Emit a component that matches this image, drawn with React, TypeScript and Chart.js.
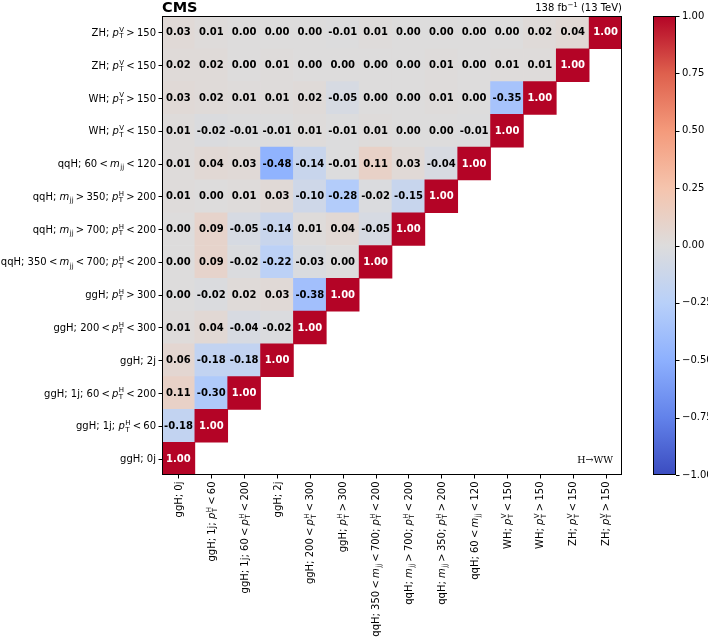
import React, { useEffect, useRef } from "react";
import { Chart, registerables } from "chart.js";

Chart.register(...registerables);

// Bin labels, bottom-to-top on y, left-to-right on x
const bins = [
  "ggH; 0j",
  "ggH; 1j; {pTH} < 60",
  "ggH; 1j; 60 < {pTH} < 200",
  "ggH; 2j",
  "ggH; 200 < {pTH} < 300",
  "ggH; {pTH} > 300",
  "qqH; 350 < {mjj} < 700; {pTH} < 200",
  "qqH; {mjj} > 700; {pTH} < 200",
  "qqH; {mjj} > 350; {pTH} > 200",
  "qqH; 60 < {mjj} < 120",
  "WH; {pTV} < 150",
  "WH; {pTV} > 150",
  "ZH; {pTV} < 150",
  "ZH; {pTV} > 150",
];

// Correlation rows (row i has columns 0..i)
const row00 = [1.0];
const row01 = [-0.18, 1.0];
const row02 = [0.11, -0.3, 1.0];
const row03 = [0.06, -0.18, -0.18, 1.0];
const row04 = [0.01, 0.04, -0.04, -0.02, 1.0];
const row05 = [0.0, -0.02, 0.02, 0.03, -0.38, 1.0];
const row06 = [0.0, 0.09, -0.02, -0.22, -0.03, 0.0, 1.0];
const row07 = [0.0, 0.09, -0.05, -0.14, 0.01, 0.04, -0.05, 1.0];
const row08 = [0.01, 0.0, 0.01, 0.03, -0.1, -0.28, -0.02, -0.15, 1.0];
const row09 = [0.01, 0.04, 0.03, -0.48, -0.14, -0.01, 0.11, 0.03, -0.04, 1.0];
const row10 = [0.01, -0.02, -0.01, -0.01, 0.01, -0.01, 0.01, 0.0, 0.0, -0.01, 1.0];
const row11 = [0.03, 0.02, 0.01, 0.01, 0.02, -0.05, 0.0, 0.0, 0.01, 0.0, -0.35, 1.0];
const row12 = [0.02, 0.02, 0.0, 0.01, 0.0, 0.0, 0.0, 0.0, 0.01, 0.0, 0.01, 0.01, 1.0];
const row13 = [0.03, 0.01, 0.0, 0.0, 0.0, -0.01, 0.01, 0.0, 0.0, 0.0, 0.0, 0.02, 0.04, 1.0];

const rows = [row00, row01, row02, row03, row04, row05, row06, row07, row08, row09, row10, row11, row12, row13];

const colorbarTicks = [1.0, 0.75, 0.5, 0.25, 0.0, -0.25, -0.5, -0.75, -1.0];

// coolwarm colormap stops
const coolwarm: [number, number, number][] = [
  [59, 76, 192],
  [98, 130, 234],
  [141, 176, 254],
  [184, 208, 249],
  [221, 220, 220],
  [245, 196, 173],
  [244, 154, 123],
  [222, 96, 77],
  [180, 4, 38],
];

function colorFor(v: number): string {
  let t = (v + 1) / 2;
  t = Math.max(0, Math.min(1, t));
  const n = coolwarm.length - 1;
  const p = t * n;
  const i = Math.min(n - 1, Math.floor(p));
  const f = p - i;
  const a = coolwarm[i];
  const b = coolwarm[i + 1];
  const c = a.map((x, k) => Math.round(x + (b[k] - x) * f));
  return `rgb(${c[0]},${c[1]},${c[2]})`;
}

const FONT = "'DejaVu Sans', sans-serif";
const FS = 10;
const SS = 7;
const RELGAP = 2.2;

type Piece = { kind: string; text: string };

function parse(label: string): Piece[] {
  const parts = label.split(/(\{pTH\}|\{pTV\}|\{mjj\}| < | > )/);
  return parts.filter((p) => p.length > 0).map((p) => {
    if (p === "{pTH}") return { kind: "p", text: "H" };
    if (p === "{pTV}") return { kind: "p", text: "V" };
    if (p === "{mjj}") return { kind: "m", text: "jj" };
    if (p === " < " || p === " > ") return { kind: "r", text: p.trim() };
    return { kind: "t", text: p };
  });
}

function pieceWidth(ctx: CanvasRenderingContext2D, pc: Piece): number {
  if (pc.kind === "t") {
    ctx.font = `${FS}px ${FONT}`;
    return ctx.measureText(pc.text).width;
  }
  if (pc.kind === "r") {
    ctx.font = `${FS}px ${FONT}`;
    return ctx.measureText(pc.text).width + 2 * RELGAP;
  }
  if (pc.kind === "p") {
    ctx.font = `italic ${FS}px ${FONT}`;
    const w = ctx.measureText("p").width;
    ctx.font = `${SS}px ${FONT}`;
    return w + 0.5 + Math.max(ctx.measureText("T").width, ctx.measureText(pc.text).width);
  }
  ctx.font = `italic ${FS}px ${FONT}`;
  const w = ctx.measureText("m").width;
  ctx.font = `${SS}px ${FONT}`;
  return w + 0.5 + ctx.measureText(pc.text).width;
}

function labelWidth(ctx: CanvasRenderingContext2D, label: string): number {
  return parse(label).reduce((s, p) => s + pieceWidth(ctx, p), 0);
}

// draws label starting at x, baseline y (textBaseline alphabetic)
function drawLabel(ctx: CanvasRenderingContext2D, label: string, x: number, y: number) {
  ctx.textAlign = "left";
  ctx.textBaseline = "alphabetic";
  let cx = x;
  for (const pc of parse(label)) {
    if (pc.kind === "t") {
      ctx.font = `${FS}px ${FONT}`;
      ctx.fillText(pc.text, cx, y);
      cx += ctx.measureText(pc.text).width;
    } else if (pc.kind === "r") {
      ctx.font = `${FS}px ${FONT}`;
      cx += RELGAP;
      ctx.fillText(pc.text, cx, y);
      cx += ctx.measureText(pc.text).width + RELGAP;
    } else if (pc.kind === "p") {
      ctx.font = `italic ${FS}px ${FONT}`;
      ctx.fillText("p", cx, y);
      cx += ctx.measureText("p").width + 0.5;
      ctx.font = `${SS}px ${FONT}`;
      ctx.fillText("T", cx, y + 2.2);
      ctx.fillText(pc.text, cx, y - 4.2);
      cx += Math.max(ctx.measureText("T").width, ctx.measureText(pc.text).width);
    } else {
      ctx.font = `italic ${FS}px ${FONT}`;
      ctx.fillText("m", cx, y);
      cx += ctx.measureText("m").width + 0.5;
      ctx.font = `${SS}px ${FONT}`;
      ctx.fillText(pc.text, cx, y + 2.2);
      cx += ctx.measureText(pc.text).width;
    }
  }
}

const decorPlugin = {
  id: "decor",
  afterDatasetsDraw(chart: any) {
    const ctx: CanvasRenderingContext2D = chart.ctx;
    const area = chart.chartArea;
    const xs = chart.scales.x;
    const ys = chart.scales.y;
    ctx.save();

    // cell values
    ctx.textAlign = "center";
    ctx.textBaseline = "middle";
    ctx.font = `bold 10px ${FONT}`;
    rows.forEach((row, i) => {
      row.forEach((v, j) => {
        const px = xs.getPixelForValue(j);
        const py = ys.getPixelForValue(i);
        ctx.fillStyle = v > 0.5 ? "#ffffff" : "#000000";
        ctx.fillText(v.toFixed(2), px, py + 0.5);
      });
    });

    // frame
    ctx.strokeStyle = "#000";
    ctx.lineWidth = 1;
    ctx.strokeRect(Math.round(area.left) + 0.5, Math.round(area.top) + 0.5,
      Math.round(area.right - area.left) - 1, Math.round(area.bottom - area.top) - 1);

    // y ticks and labels
    ctx.fillStyle = "#000";
    bins.forEach((lab, i) => {
      const py = ys.getPixelForValue(i);
      ctx.beginPath();
      ctx.moveTo(area.left - 3.5, Math.round(py) + 0.5);
      ctx.lineTo(area.left, Math.round(py) + 0.5);
      ctx.stroke();
      const w = labelWidth(ctx, lab);
      drawLabel(ctx, lab, area.left - 6 - w, py + 3.6);
    });

    // x ticks and labels
    bins.forEach((lab, j) => {
      const px = xs.getPixelForValue(j);
      ctx.beginPath();
      ctx.moveTo(Math.round(px) + 0.5, area.bottom);
      ctx.lineTo(Math.round(px) + 0.5, area.bottom + 3.5);
      ctx.stroke();
      const w = labelWidth(ctx, lab);
      ctx.save();
      ctx.translate(px + 3.6, area.bottom + 6.5);
      ctx.rotate(-Math.PI / 2);
      drawLabel(ctx, lab, -w, 0);
      ctx.restore();
    });

    // CMS title
    ctx.fillStyle = "#000";
    ctx.textAlign = "left";
    ctx.textBaseline = "alphabetic";
    ctx.font = `bold 14.5px ${FONT}`;
    ctx.fillText("CMS", area.left, 12);

    // luminosity label
    ctx.font = `10px ${FONT}`;
    const lumiA = "138 fb";
    const lumiSup = "\u22121";
    const lumiB = " (13 TeV)";
    const wA = ctx.measureText(lumiA).width;
    const wB = ctx.measureText(lumiB).width;
    ctx.font = `7px ${FONT}`;
    const wS = ctx.measureText(lumiSup).width;
    let lx = area.right - (wA + wS + wB);
    ctx.font = `10px ${FONT}`;
    ctx.fillText(lumiA, lx, 11);
    lx += wA;
    ctx.font = `7px ${FONT}`;
    ctx.fillText(lumiSup, lx, 7);
    lx += wS;
    ctx.font = `10px ${FONT}`;
    ctx.fillText(lumiB, lx, 11);

    // H->WW
    ctx.font = `9.5px 'DejaVu Serif', serif`;
    ctx.textAlign = "right";
    ctx.fillText("H\u2192WW", area.right - 9, area.bottom - 12);

    // colorbar
    const cbL = 653;
    const cbR = 676;
    const cbT = area.top;
    const cbB = area.bottom;
    const grad = ctx.createLinearGradient(0, cbB, 0, cbT);
    coolwarm.forEach((c, k) => {
      grad.addColorStop(k / (coolwarm.length - 1), `rgb(${c[0]},${c[1]},${c[2]})`);
    });
    ctx.fillStyle = grad;
    ctx.fillRect(cbL, cbT, cbR - cbL, cbB - cbT);
    ctx.strokeStyle = "#000";
    ctx.lineWidth = 1;
    ctx.strokeRect(cbL + 0.5, Math.round(cbT) + 0.5, cbR - cbL - 1, Math.round(cbB - cbT) - 1);
    ctx.fillStyle = "#000";
    ctx.font = `10px ${FONT}`;
    ctx.textAlign = "left";
    ctx.textBaseline = "middle";
    colorbarTicks.forEach((t) => {
      const py = cbB - ((t + 1) / 2) * (cbB - cbT);
      const yy = Math.round(py) + 0.5;
      ctx.beginPath();
      ctx.moveTo(cbR, yy);
      ctx.lineTo(cbR + 3.5, yy);
      ctx.stroke();
      const s = (t < 0 ? "\u2212" : "") + Math.abs(t).toFixed(2);
      ctx.fillText(s, cbR + 6, py);
    });

    ctx.restore();
  },
};

export default function App() {
  const ref = useRef<HTMLCanvasElement | null>(null);

  useEffect(() => {
    if (!ref.current) return;
    const datasets = rows.map((row, i) => ({
      label: bins[i],
      data: bins.map((_, j) => (j <= i ? [i - 0.5, i + 0.5] : null)),
      backgroundColor: bins.map((_, j) => (j <= i ? colorFor(row[j]) : "rgba(0,0,0,0)")),
      borderWidth: 0,
      grouped: false,
      barPercentage: 1,
      categoryPercentage: 1,
    }));
    const chart = new Chart(ref.current, {
      type: "bar",
      data: { labels: bins, datasets: datasets as any },
      options: {
        animation: false,
        responsive: true,
        maintainAspectRatio: false,
        devicePixelRatio: 1,
        layout: { padding: { left: 162, top: 16, right: 86, bottom: 163 } },
        plugins: { legend: { display: false }, tooltip: { enabled: false }, title: { display: false } },
        scales: {
          x: { type: "category", display: false, offset: true },
          y: { type: "linear", display: false, min: -0.5, max: 13.5 },
        },
      } as any,
      plugins: [decorPlugin],
    });
    return () => chart.destroy();
  }, []);

  return (
    <div style={{ position: "fixed", left: 0, top: 0, width: 708, height: 638, background: "#fff" }}>
      <canvas ref={ref} />
    </div>
  );
}
